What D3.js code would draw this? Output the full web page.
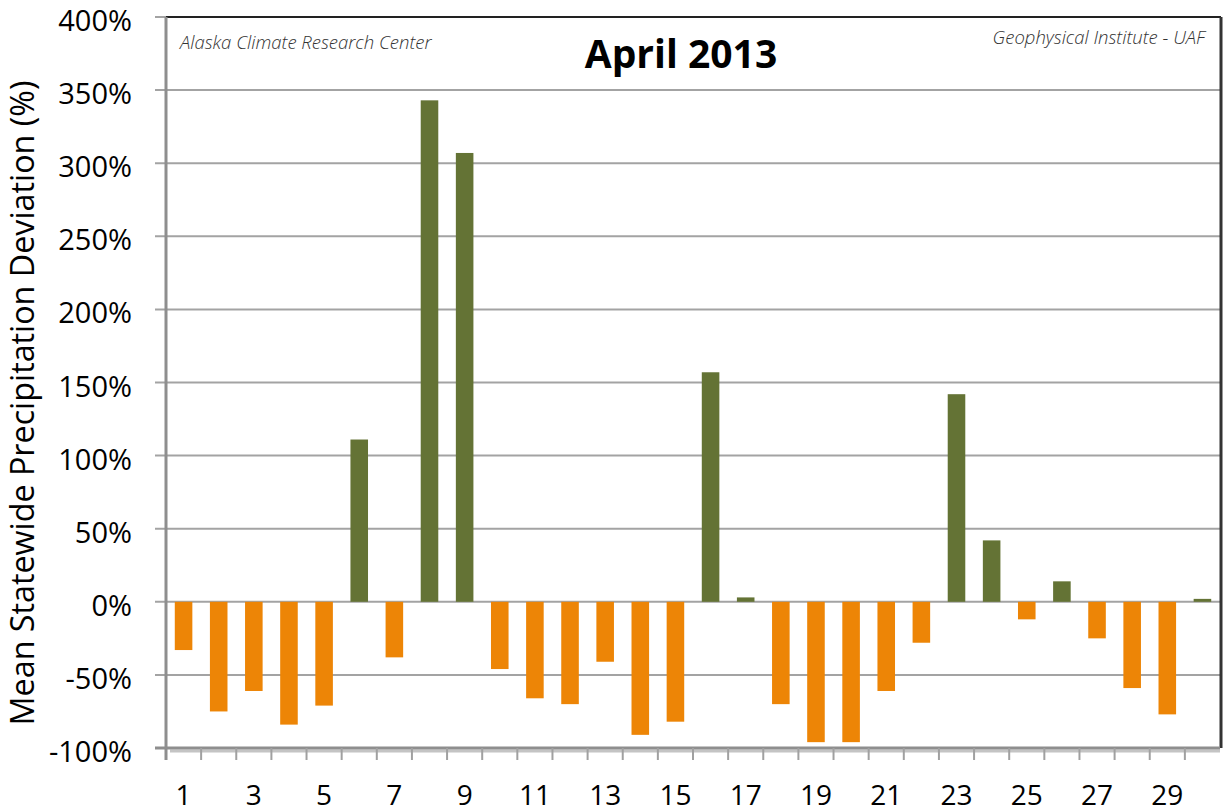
<!DOCTYPE html>
<html lang="en">
<head>
    <meta charset="UTF-8">
    <title>April 2013</title>
    <style>
        body { margin: 0; background: #fff; }
        svg { display: block; }
        text { font-family: "Open Sans", sans-serif; fill: #000; }
    </style>
</head>
<body>
<svg width="1225" height="812"></svg>
<script src="https://d3js.org/d3.v7.min.js"></script>
<script>
    // daily precipitation deviation, April 2013 (%)
    const days = d3.range(1, 31)
    const deviation = [-33, -75, -61, -84, -71, 111, -38, 343, 307, -46,
                       -66, -70, -41, -91, -82, 157, 3, -70, -96, -96,
                       -61, -28, 142, 42, -12, 14, -25, -59, -77, 2]
    const yTicks = [-100, -50, 0, 50, 100, 150, 200, 250, 300, 350, 400]
    const xLabels = [1, 3, 5, 7, 9, 11, 13, 15, 17, 19, 21, 23, 25, 27, 29]

    const svg = d3.select("svg")
    const plotLeft = 166, plotRight = 1220, plotTop = 17, plotBottom = 748

    const x = d3.scaleBand()
        .domain(days)
        .range([plotLeft, plotRight])
        .paddingInner(0.5)
        .paddingOuter(0.25)

    const y = d3.scaleLinear()
        .domain([-100, 400])
        .range([plotBottom, plotTop])

    // gridlines
    svg.append("g")
        .selectAll("line")
        .data(yTicks)
        .join("line")
        .attr("x1", plotLeft - 11)
        .attr("x2", plotRight)
        .attr("y1", d => y(d))
        .attr("y2", d => y(d))
        .style("stroke", "#a3a3a3")
        .style("stroke-width", 2)

    // y labels
    svg.append("g")
        .selectAll("text")
        .data(yTicks)
        .join("text")
        .attr("x", 132)
        .attr("y", d => y(d) + 14)
        .attr("text-anchor", "end")
        .style("font-size", "29px")
        .text(d => d + "%")

    // bars
    svg.append("g")
        .selectAll("rect")
        .data(days)
        .join("rect")
        .attr("x", d => x(d))
        .attr("width", x.bandwidth())
        .attr("y", (d, i) => y(Math.max(0, deviation[i])))
        .attr("height", (d, i) => Math.abs(y(deviation[i]) - y(0)))
        .style("fill", (d, i) => deviation[i] >= 0 ? "#647335" : "#ed8506")

    // frame: top + right dark, left + bottom gray axes
    svg.append("line")
        .attr("x1", plotLeft).attr("x2", plotRight + 1)
        .attr("y1", plotTop).attr("y2", plotTop)
        .style("stroke", "#222").style("stroke-width", 2)
    svg.append("line")
        .attr("x1", plotRight + 1).attr("x2", plotRight + 1)
        .attr("y1", plotTop).attr("y2", plotBottom)
        .style("stroke", "#333").style("stroke-width", 3)
    svg.append("line")
        .attr("x1", plotLeft).attr("x2", plotLeft)
        .attr("y1", plotTop).attr("y2", plotBottom + 12)
        .style("stroke", "#8e8e8e").style("stroke-width", 3)

    // bottom axis with a little shadow
    svg.append("line")
        .attr("x1", plotLeft + 4).attr("x2", plotRight)
        .attr("y1", plotBottom + 3).attr("y2", plotBottom + 3)
        .style("stroke", "#c4c4c4").style("stroke-width", 3)
    svg.append("line")
        .attr("x1", plotLeft - 11).attr("x2", plotRight)
        .attr("y1", plotBottom).attr("y2", plotBottom)
        .style("stroke", "#8e8e8e").style("stroke-width", 3)

    // x ticks at band boundaries
    svg.append("g")
        .selectAll("line")
        .data(d3.range(1, days.length))
        .join("line")
        .attr("x1", i => x(days[i]) - x.step() * x.paddingInner() / 2)
        .attr("x2", i => x(days[i]) - x.step() * x.paddingInner() / 2)
        .attr("y1", plotBottom)
        .attr("y2", plotBottom + 12)
        .style("stroke", "#a0a0a0")
        .style("stroke-width", 2)

    // x labels
    svg.append("g")
        .selectAll("text")
        .data(xLabels)
        .join("text")
        .attr("x", d => x(d) + x.bandwidth() / 2)
        .attr("y", 805)
        .attr("text-anchor", "middle")
        .style("font-size", "28px")
        .text(d => d)

    // axis title, sized to the same length as the original
    const yTitle = svg.append("text")
        .attr("transform", "translate(34,403) rotate(-90)")
        .attr("text-anchor", "middle")
        .style("font-size", "26px")
        .text("Mean Statewide Precipitation Deviation (%)")
    const len = yTitle.node().getComputedTextLength()
    yTitle.style("font-size", (26 * 645 / len) + "px")

    svg.append("text")
        .attr("x", 681)
        .attr("y", 68)
        .attr("text-anchor", "middle")
        .style("font-size", "39px")
        .style("font-weight", "bold")
        .text("April 2013")

    svg.append("text")
        .attr("x", 180)
        .attr("y", 49)
        .style("font-size", "18.5px")
        .style("font-style", "italic")
        .style("font-weight", 300)
        .style("fill", "#333")
        .text("Alaska Climate Research Center")

    svg.append("text")
        .attr("x", 1205)
        .attr("y", 44)
        .attr("text-anchor", "end")
        .style("font-size", "18.5px")
        .style("font-style", "italic")
        .style("font-weight", 300)
        .style("fill", "#333")
        .text("Geophysical Institute - UAF")
</script>
</body>
</html>
